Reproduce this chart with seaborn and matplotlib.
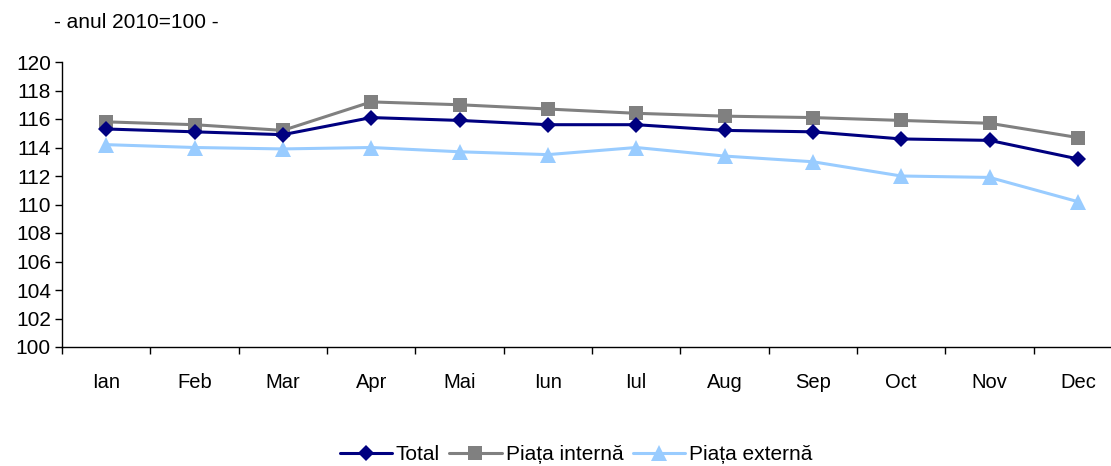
import numpy as np
import pandas as pd
import matplotlib
matplotlib.use("Agg")
import matplotlib.pyplot as plt
import seaborn as sns
from matplotlib.ticker import FixedLocator

months = ["Ian", "Feb", "Mar", "Apr", "Mai", "Iun", "Iul", "Aug", "Sep", "Oct", "Nov", "Dec"]
total = [115.3, 115.1, 114.9, 116.1, 115.9, 115.6, 115.6, 115.2, 115.1, 114.6, 114.5, 113.2]
piata_interna = [115.8, 115.6, 115.2, 117.2, 117.0, 116.7, 116.4, 116.2, 116.1, 115.9, 115.7, 114.7]
piata_externa = [114.2, 114.0, 113.9, 114.0, 113.7, 113.5, 114.0, 113.4, 113.0, 112.0, 111.9, 110.2]
series_names = ["Total", "Piața internă", "Piața externă"]

sns.set_theme(style="white")
plt.rcParams['font.family'] = ['Liberation Sans', 'DejaVu Sans']
plt.rcParams['text.color'] = 'black'
plt.rcParams['xtick.color'] = 'black'
plt.rcParams['ytick.color'] = 'black'
plt.rcParams['xtick.labelcolor'] = 'black'
plt.rcParams['ytick.labelcolor'] = 'black'

rows = []
for name, vals in zip(series_names, [total, piata_interna, piata_externa]):
    for i, v in enumerate(vals):
        rows.append({"x": i + 0.5, "val": v, "serie": name})
df = pd.DataFrame(rows)

fig = plt.figure(figsize=(11.11, 4.66), dpi=100)
ax = fig.add_axes([62/1111, 1 - 347/466, 1060/1111, 285/466])

palette = {"Total": "#000080", "Piața internă": "#808080", "Piața externă": "#99CCFF"}
markers = {"Total": "D", "Piața internă": "s", "Piața externă": "^"}
sizes_m = {"Total": 8, "Piața internă": 10, "Piața externă": 11}

for name in series_names:
    sub = df[df["serie"] == name]
    sns.lineplot(data=sub, x="x", y="val", color=palette[name], marker=markers[name],
                 markersize=sizes_m[name], markeredgewidth=0, linewidth=2.2, ax=ax,
                 label=name, zorder=3 if name == "Total" else 2)

ax.set_xlim(0, 12)
ax.set_ylim(100, 120)
ax.set_yticks(np.arange(100, 121, 2))
ax.tick_params(axis="y", labelsize=15, length=5, width=1, direction="out", color="black",
               labelcolor="black", pad=3, left=True)
ax.xaxis.set_major_locator(FixedLocator([i + 0.5 for i in range(12)]))
ax.set_xticklabels(months)
ax.xaxis.set_minor_locator(FixedLocator(list(range(13))))
ax.tick_params(axis="x", which="major", length=0, labelsize=14.5, pad=19, labelcolor="black")
ax.tick_params(axis="x", which="minor", length=5, width=1, direction="out", color="black", bottom=True)
ax.set_xlabel("")
ax.set_ylabel("")
for s in ["top", "right"]:
    ax.spines[s].set_visible(False)
for s in ["left", "bottom"]:
    ax.spines[s].set_color("black")
    ax.spines[s].set_linewidth(1)

fig.text(54/1111, 1 - 22/466, "- anul 2010=100 -", fontsize=15, va="center", ha="left", color="black")

handles, labels = ax.get_legend_handles_labels()
if ax.legend_:
    ax.legend_.remove()
leg = fig.legend(handles, labels, loc="center", bbox_to_anchor=(576/1111, 1 - 455/466), ncol=3,
                 frameon=False, fontsize=15, handlelength=2.5, handletextpad=0.2, columnspacing=0.45,
                 borderaxespad=0)
for t in leg.get_texts():
    t.set_color("black")

fig.savefig("out.png", dpi=100)
